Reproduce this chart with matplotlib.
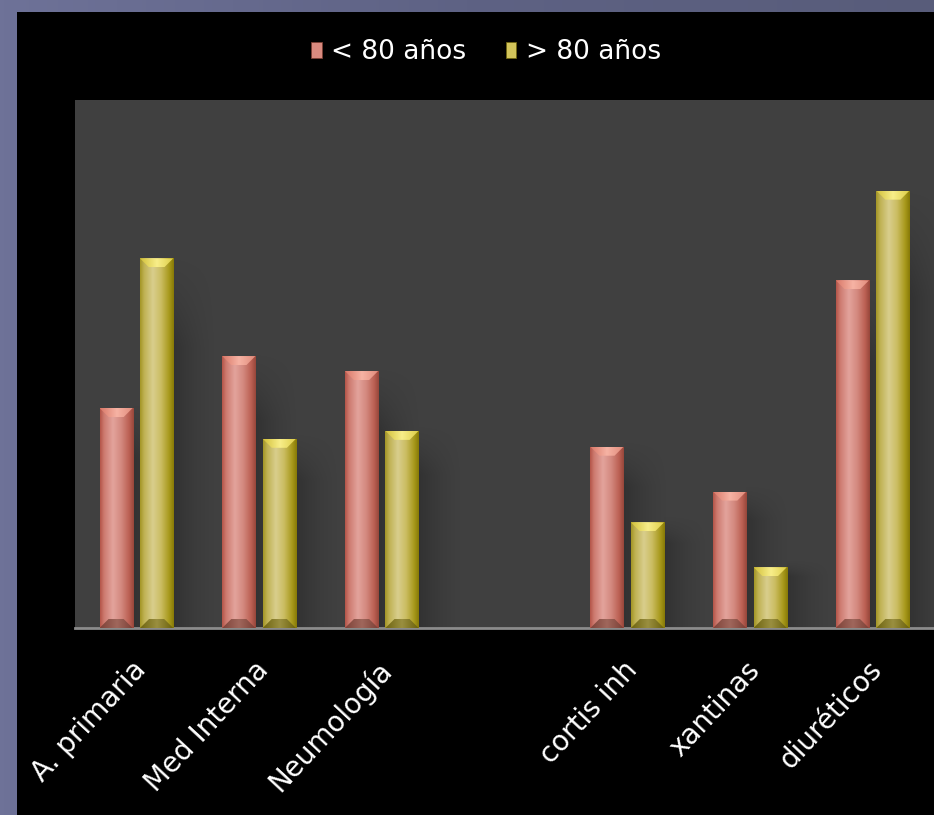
import numpy as np
import matplotlib
matplotlib.use("Agg")
import matplotlib.pyplot as plt
import matplotlib.transforms as mtransforms
from matplotlib.patches import Rectangle, Polygon, Patch
from matplotlib.colors import LinearSegmentedColormap

# ---- data -------------------------------------------------------------
categories = ["A. primaria", "Med Interna", "Neumología", "",
              "cortis inh", "xantinas", "diuréticos"]
under_80 = [25.0, 30.9, 29.2, None, 20.6, 15.5, 39.5]
over_80 = [42.0, 21.5, 22.4, None, 12.0, 6.9, 49.7]
series_labels = ["< 80 años", "> 80 años"]

# ---- styling ----------------------------------------------------------
FONT = "DejaVu Sans"
body = {
    "red": [(0.0, "#b45448"), (0.12, "#cd7a6f"), (0.38, "#e3a39c"),
            (0.62, "#d48a80"), (0.86, "#bb6053"), (1.0, "#96463a")],
    "yellow": [(0.0, "#a39524"), (0.12, "#bfb152"), (0.38, "#d9ce8d"),
               (0.62, "#cbbd62"), (0.86, "#a8991c"), (1.0, "#867906")],
}
cap_top = {"red": ["#d97868", "#f6b3a4", "#e08a7a"],
           "yellow": ["#d2c03a", "#f8ee8a", "#dccb44"]}
cap_bot = {"red": ["#7e4238", "#a0675c", "#7a3e34"],
           "yellow": ["#6e6410", "#9a8f40", "#6a600a"]}
legend_face = {"red": "#d98a7f", "yellow": "#d2c45a"}

W, H, DPI = 934, 815, 100
fig = plt.figure(figsize=(W / DPI, H / DPI), dpi=DPI)

# slide background
bg = fig.add_axes([0, 0, 1, 1], zorder=-10)
bg.set_axis_off()
grad = np.linspace(0, 1, 256)[None, :]
bg_cmap = LinearSegmentedColormap.from_list("bg", ["#6e7298", "#5e6284", "#585c7a"])
bg.imshow(grad, cmap=bg_cmap, aspect="auto", extent=(0, 1, 0, 1))
bg.add_patch(Rectangle((17 / W, 0), 1, 1 - 12 / H, facecolor="black",
                       edgecolor="none", transform=bg.transAxes))
bg.set_xlim(0, 1)
bg.set_ylim(0, 1)

# plot area
left, right = 75 / W, 1.0
bottom, top = 1 - 628 / H, 1 - 100 / H
ax = fig.add_axes([left, bottom, right - left, top - bottom])
ax.set_facecolor("#404040")
ymax = 60
ax.set_xlim(-0.5, len(categories) - 0.5)
ax.set_ylim(0, ymax)
for s in ("top", "right", "left"):
    ax.spines[s].set_visible(False)
ax.spines["bottom"].set_color("#8c8c8c")
ax.spines["bottom"].set_linewidth(2)
ax.set_yticks([])
ax.tick_params(axis="x", length=0)

x = np.arange(len(categories))
width = 0.27
offset = 0.165


def px_to_data(dx_px, dy_px):
    p0 = ax.transData.inverted().transform((0, 0))
    p1 = ax.transData.inverted().transform((dx_px, dy_px))
    return abs(p1[0] - p0[0]), abs(p1[1] - p0[1])


def fill_gradient(x0, x1, y0, y1, stops, clip, z):
    cmap = LinearSegmentedColormap.from_list("g", stops)
    im = ax.imshow(grad, cmap=cmap, aspect="auto", extent=(x0, x1, y0, y1),
                   interpolation="bilinear", zorder=z)
    im.set_clip_path(clip)


# soft shadow texture: fades to the right and towards the top
sx = np.linspace(0, 1, 64)
sy = np.linspace(0, 1, 64)[:, None]
fx = (1 - sx) ** 1.6
fy = np.clip(sy / 0.25, 0, 1) ** 1.5
shadow_rgba = np.zeros((64, 64, 4))
shadow_rgba[..., 3] = 0.22 * fx[None, :] * fy[::-1]

bevel_x, bevel_y = px_to_data(9, 9)
shadow_w, shadow_h = px_to_data(45, 40)

for values, off, key in ((under_80, -offset, "red"), (over_80, offset, "yellow")):
    xs = [xi + off for xi, v in zip(x, values) if v is not None]
    hs = [v for v in values if v is not None]
    bars = ax.bar(xs, hs, width=width, color=body[key][2][1], edgecolor="none", zorder=3)
    for bar in bars:
        x0 = bar.get_x()
        x1 = x0 + bar.get_width()
        h = bar.get_height()
        ax.imshow(shadow_rgba, aspect="auto", origin="lower",
                  extent=(x1, x1 + shadow_w, 0, h + shadow_h * 0.2),
                  interpolation="bilinear", zorder=1)
        fill_gradient(x0, x1, 0, h, body[key], bar, 4)
        tp = Polygon([(x0, h), (x1, h), (x1 - bevel_x, h - bevel_y),
                      (x0 + bevel_x, h - bevel_y)], closed=True,
                     transform=ax.transData, facecolor="none", edgecolor="none")
        ax.add_patch(tp)
        fill_gradient(x0, x1, h - bevel_y, h, cap_top[key], tp, 5)
        bp = Polygon([(x0, 0), (x1, 0), (x1 - bevel_x, bevel_y),
                      (x0 + bevel_x, bevel_y)], closed=True,
                     transform=ax.transData, facecolor="none", edgecolor="none")
        ax.add_patch(bp)
        fill_gradient(x0, x1, 0, bevel_y, cap_bot[key], bp, 5)

ax.set_xlim(-0.5, len(categories) - 0.5)
ax.set_ylim(0, ymax)

ax.set_xticks(x)
ax.set_xticklabels(categories, rotation=47, ha="right", va="top",
                   rotation_mode="anchor", color="white", fontsize=20,
                   family=FONT)
ax.tick_params(axis="x", pad=20)
shift = mtransforms.ScaledTranslation(-5 / DPI, 0, fig.dpi_scale_trans)
for lbl in ax.get_xticklabels():
    lbl.set_transform(lbl.get_transform() + shift)

handles = [Patch(facecolor=legend_face["red"], edgecolor="#7a3e34", linewidth=0.6),
           Patch(facecolor=legend_face["yellow"], edgecolor="#6e6410", linewidth=0.6)]
fig.legend(handles, series_labels, loc="center", bbox_to_anchor=(486 / W, 1 - 52 / H),
           ncol=2, frameon=False, labelcolor="white",
           prop={"family": FONT, "size": 19},
           handlelength=0.4, handleheight=0.55, handletextpad=0.35,
           columnspacing=1.5)

fig.savefig("out.png", dpi=DPI, facecolor=fig.get_facecolor())
